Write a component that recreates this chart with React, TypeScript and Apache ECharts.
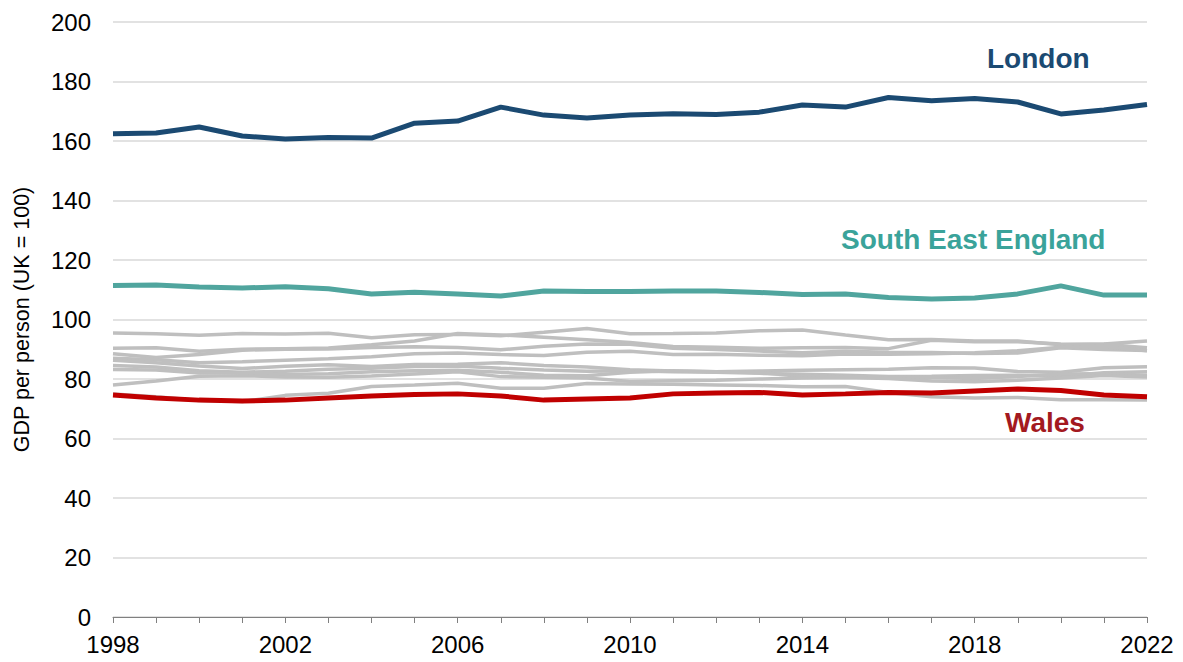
import React, { useEffect, useRef } from "react";
import * as echarts from "echarts";

const years = ["1998","1999","2000","2001","2002","2003","2004","2005","2006","2007","2008","2009","2010","2011","2012","2013","2014","2015","2016","2017","2018","2019","2020","2021","2022"];

const london = [162.4,162.7,164.7,161.7,160.7,161.2,161,166,166.7,171.4,168.7,167.7,168.7,169.2,168.9,169.7,172.1,171.4,174.6,173.5,174.3,173.1,169.1,170.4,172.3];
const southEast = [111.4,111.6,110.9,110.6,111,110.3,108.6,109.2,108.6,107.9,109.6,109.4,109.4,109.6,109.6,109.1,108.4,108.6,107.4,106.9,107.2,108.6,111.3,108.2,108.2];
const wales = [74.6,73.6,72.9,72.6,72.9,73.6,74.3,74.8,75,74.3,72.9,73.3,73.6,75,75.3,75.5,74.6,75,75.5,75.3,76,76.6,76.1,74.6,74];

const otherRegions: number[][] = [
  [95.5,95.2,94.7,95.3,95.1,95.4,93.9,94.9,95,94.5,95.7,97,95.2,95.3,95.5,96.2,96.5,94.8,93.2,93.3,92.8,92.8,91.5,91.8,92.8],
  [90.3,90.5,89.3,90,90.2,90.4,91.5,92.8,95.3,94.8,94,93.2,92.3,90.9,90.7,90.3,90.5,90.6,90.2,93,92.5,92.5,91.8,91.7,90.5],
  [88.5,87.2,88.2,89.7,90,90.1,90.6,90.8,90.6,89.8,91,91.8,91.7,90.3,89.9,89.4,88.8,89.3,89,88.9,88.6,88.7,90.5,89.9,89.6],
  [87,86.5,85.5,85.8,86.3,86.8,87.5,88.5,88.7,88.2,87.9,89,89.3,88.2,88.3,88,87.8,88.4,88.3,88.5,88.8,89.5,90.7,90.9,89.5],
  [86.3,85.5,84.4,83.5,84.3,84.8,84.2,84.9,85,85.5,84.5,84,83.1,82.7,82.4,82.7,82.9,83.1,83.3,83.8,83.7,82.5,82.3,83.8,84.1],
  [84.5,84,82.8,82.3,82.6,83.3,83.6,84.2,84.4,83.6,83,82.6,82.8,82.4,82.3,81.9,81.6,81.3,80.8,80.9,81.2,81.3,80.9,82.1,82.4],
  [83.2,83,82,82,81.5,81.8,82.4,82.8,82.9,82.3,81.3,81.1,82.3,82.8,82.4,82.2,80.8,81.1,80.4,80.5,80.2,80.8,81.7,81.8,81.3],
  [78,79.3,80.9,81.1,80.7,80.6,81,81.7,82.4,80.8,80.6,80.3,79.2,79.4,79.6,80,80.3,80.5,80.2,79.3,79.1,79.6,80.3,81.2,80.7],
  [75,74,72.8,72.4,74.5,75.2,77.5,78,78.6,76.9,76.9,78.5,78.3,78.2,78,77.8,77.4,77.5,75.5,74,73.6,73.8,73,73,72.9],
];

const yTicks = { min: 0, max: 200, interval: 20 };
const FONT = "Arial, 'Liberation Sans', sans-serif";

export default function App() {
  const ref = useRef<HTMLDivElement>(null);
  useEffect(() => {
    if (!ref.current) return;
    const chart = echarts.init(ref.current, null, { renderer: "svg" });
    const grayColor = "#BFBFBF";
    const series: any[] = otherRegions.map((d, i) => ({
      name: "Region " + (i + 1),
      type: "line",
      data: d,
      symbol: "none",
      lineStyle: { color: grayColor, width: 3.5 },
      z: 1,
    }));
    series.push(
      { name: "Wales", type: "line", data: wales, symbol: "none", lineStyle: { color: "#C00000", width: 5 }, z: 3 },
      { name: "South East England", type: "line", data: southEast, symbol: "none", lineStyle: { color: "#50A59E", width: 5 }, z: 3 },
      { name: "London", type: "line", data: london, symbol: "none", lineStyle: { color: "#1B4A72", width: 5 }, z: 3 }
    );
    chart.setOption({
      animation: false,
      grid: { left: 113, right: 36, top: 22, bottom: 45, containLabel: false },
      xAxis: {
        type: "category",
        data: years,
        boundaryGap: false,
        axisLine: { lineStyle: { color: "#808080", width: 1 } },
        axisTick: { show: true, interval: 0, length: 6, lineStyle: { color: "#808080" } },
        axisLabel: { interval: 3, color: "#000", fontSize: 24, fontFamily: FONT, margin: 15 },
        splitLine: { show: false },
      },
      yAxis: {
        type: "value",
        min: yTicks.min,
        max: yTicks.max,
        interval: yTicks.interval,
        name: "GDP per person (UK = 100)",
        nameLocation: "middle",
        nameGap: 80,
        nameTextStyle: { color: "#000", fontSize: 21.5, fontFamily: FONT },
        axisLine: { show: false },
        axisTick: { show: false },
        axisLabel: { color: "#000", fontSize: 24, fontFamily: FONT, margin: 22 },
        splitLine: { show: true, lineStyle: { color: "#D9D9D9", width: 1.5 } },
      },
      graphic: [
        { type: "text", left: 987, top: 44, style: { text: "London", fill: "#1B4A72", font: "bold 28px " + FONT } },
        { type: "text", left: 841, top: 225, style: { text: "South East England", fill: "#3AA39A", font: "bold 28px " + FONT } },
        { type: "text", left: 1005, top: 408, style: { text: "Wales", fill: "#A3191F", font: "bold 28px " + FONT } },
      ],
      series,
    });
    return () => chart.dispose();
  }, []);
  return <div ref={ref} style={{ position: "fixed", left: 0, top: 0, width: 1183, height: 662, background: "#fff" }} />;
}
